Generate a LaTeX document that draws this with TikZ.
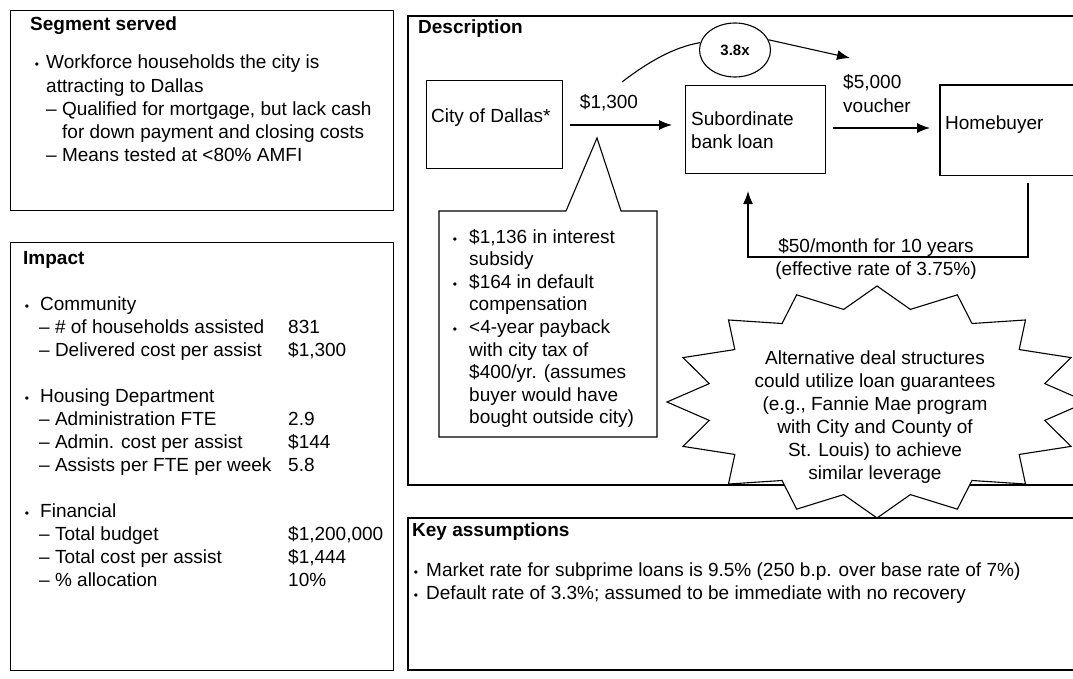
\documentclass[tikz,border=0pt]{standalone}
\usepackage{fontspec}
\setmainfont{Liberation Sans}
\usetikzlibrary{arrows.meta,shapes.geometric}
\tikzset{
  ln/.style={line width=1.1pt, draw=black},
  box/.style={ln, inner sep=0pt, anchor=north west},
  tx/.style={anchor=base west, inner sep=0pt, font=\fontsize{19}{23}\selectfont},
  ttl/.style={tx, font=\bfseries\fontsize{19}{23}\selectfont},
  txc/.style={anchor=base, inner sep=0pt, font=\fontsize{19}{23}\selectfont},
  bul/.style={anchor=base, inner sep=0pt, font=\fontsize{12}{14}\selectfont},
  arr/.style={ln, -{Latex[length=13pt,width=10pt]}},
}
\begin{document}
\begin{tikzpicture}[x=1pt,y=-1pt]
\path[use as bounding box, clip] (0,0) rectangle (1073,679);
\fill[white] (0,0) rectangle (1073,679);

% ---------- Segment served ----------
\node[box, minimum width=383pt, minimum height=200pt] (segbox) at (10,10) {};
\node[ttl] (segT) at (30,31) {Segment served};
\node[bul] (segB1) at (37,69) {•};
\node[tx] (seg1) at (46,69) {Workforce households the city is};
\node[tx] (seg2) at (46,93) {attracting to Dallas};
\node[tx] (seg3) at (46,116) {– Qualified for mortgage, but lack cash};
\node[tx] (seg4) at (62,139) {for down payment and closing costs};
\node[tx] (seg5) at (46,162) {– Means tested at <80\% AMFI};

% ---------- Impact ----------
\node[box, minimum width=383pt, minimum height=428pt] (impbox) at (10,242) {};
\node[ttl] (impT) at (23,264) {Impact};
\node[bul] (impB1) at (27,310) {•};
\node[tx] (imp1) at (40,310) {Community};
\node[tx] (imp2) at (39,333) {– \# of households assisted};
\node[tx] (imp2v) at (288,333) {831};
\node[tx] (imp3) at (39,356) {– Delivered cost per assist};
\node[tx] (imp3v) at (288,356) {\$1,300};
\node[bul] (impB2) at (27,402) {•};
\node[tx] (imp4) at (40,402) {Housing Department};
\node[tx] (imp5) at (39,425) {– Administration FTE};
\node[tx] (imp5v) at (288,425) {2.9};
\node[tx] (imp6) at (39,448) {– Admin. cost per assist};
\node[tx] (imp6v) at (288,448) {\$144};
\node[tx] (imp7) at (39,471) {– Assists per FTE per week};
\node[tx] (imp7v) at (288,471) {5.8};
\node[bul] (impB3) at (27,517) {•};
\node[tx] (imp8) at (40,517) {Financial};
\node[tx] (imp9) at (39,540) {– Total budget};
\node[tx] (imp9v) at (288,540) {\$1,200,000};
\node[tx] (imp10) at (39,563) {– Total cost per assist};
\node[tx] (imp10v) at (288,563) {\$1,444};
\node[tx] (imp11) at (39,586) {– \% allocation};
\node[tx] (imp11v) at (288,586) {10\%};

% ---------- Description frame ----------
\draw[ln] (1073,16) -- (408,16) -- (408,485) -- (1073,485);
\node[ttl] (descT) at (418,34) {Description};

% ---------- Key assumptions frame ----------
\draw[ln] (1073,518) -- (408,518) -- (408,670) -- (1073,670);
\node[ttl] (keyT) at (412,536) {Key assumptions};
\node[bul] (keyB1) at (416,576) {•};
\node[tx] (key1) at (426,576) {Market rate for subprime loans is 9.5\% (250 b.p. over base rate of 7\%)};
\node[bul] (keyB2) at (416,599) {•};
\node[tx] (key2) at (426,599) {Default rate of 3.3\%; assumed to be immediate with no recovery};

% ---------- Flow boxes ----------
\node[box, minimum width=136pt, minimum height=88pt] (city) at (426,80) {};
\node[tx] (cityT) at (431,123) {City of Dallas*};
\node[box, minimum width=140pt, minimum height=88pt] (sub) at (685,85) {};
\node[tx] (subT1) at (691,126) {Subordinate};
\node[tx] (subT2) at (691,149) {bank loan};
\node[inner sep=0pt, anchor=north west, minimum width=133pt, minimum height=90pt] (home) at (940,85) {};
\draw[ln] (home.north east) -- (home.north west) -- (home.south west) -- (home.south east);
\node[tx] (homeT) at (945,130) {Homebuyer};

% flows
\node[txc] (l1300) at (609,109) {\$1,300};
\draw[arr, shorten <=7pt, shorten >=13pt] (city.east |- 0,125) -- (sub.west |- 0,125);
\node[tx] (l5000a) at (843,89) {\$5,000};
\node[tx] (l5000b) at (843,113) {voucher};
\draw[arr, shorten <=7pt, shorten >=10pt] (sub.east |- 0,128) -- (home.west |- 0,128);

% leverage ellipse
\node[ellipse, ln, minimum width=71pt, minimum height=54pt, inner sep=0pt,
      font=\bfseries\fontsize{15}{18}\selectfont] (lev) at (735,50) {3.8x};
\coordinate (c0) at (622,82);
\coordinate (c1) at (850,58);
\draw[ln] (c0) .. controls (648,62) and (674,47) .. (lev.168);
\draw[arr] (lev.17) -- (c1);

% return flow
\coordinate (r2) at (1028,257);
\coordinate (r3) at (748,257);
\draw[arr, shorten <=8pt, shorten >=17pt] (home.south -| r2) -- (r2) -- (r3) -- (sub.south -| r3);
\node[txc] (ret1) at (876,252) {\$50/month for 10 years};
\node[txc] (ret2) at (876,275) {(effective rate of 3.75\%)};

% ---------- callout ----------
\draw[ln, fill=white] (439,211) -- (566,211) -- (597,138) -- (621,211) -- (657,211)
  -- (657,437) -- (439,437) -- cycle;
\node[bul] (cB1) at (455,243) {•};
\node[tx] (c1t) at (469,243) {\$1,136 in interest};
\node[tx] (c2t) at (469,265.6) {subsidy};
\node[bul] (cB2) at (455,288.2) {•};
\node[tx] (c3t) at (469,288.2) {\$164 in default};
\node[tx] (c4t) at (469,310.8) {compensation};
\node[bul] (cB3) at (455,333.4) {•};
\node[tx] (c5t) at (469,333.4) {<4-year payback};
\node[tx] (c6t) at (469,356) {with city tax of};
\node[tx] (c7t) at (469,378.6) {\$400/yr. (assumes};
\node[tx] (c8t) at (469,401.2) {buyer would have};
\node[tx] (c9t) at (469,423.8) {bought outside city)};

% ---------- starburst ----------
\draw[ln, fill=white] plot[samples at={0,1,...,31}, variable=\k]
  ({877+cos(\k*11.25)*(mod(\k,2)==0 ? 210 : 171)},
   {402+sin(\k*11.25)*(mod(\k,2)==0 ? 116 : 94.4)}) -- cycle;
\node[txc] (st1) at (875,364) {Alternative deal structures};
\node[txc] (st2) at (875,387) {could utilize loan guarantees};
\node[txc] (st3) at (875,410) {(e.g., Fannie Mae program};
\node[txc] (st4) at (875,433) {with City and County of};
\node[txc] (st5) at (875,456) {St. Louis) to achieve};
\node[txc] (st6) at (875,479) {similar leverage};
\end{tikzpicture}
\end{document}
